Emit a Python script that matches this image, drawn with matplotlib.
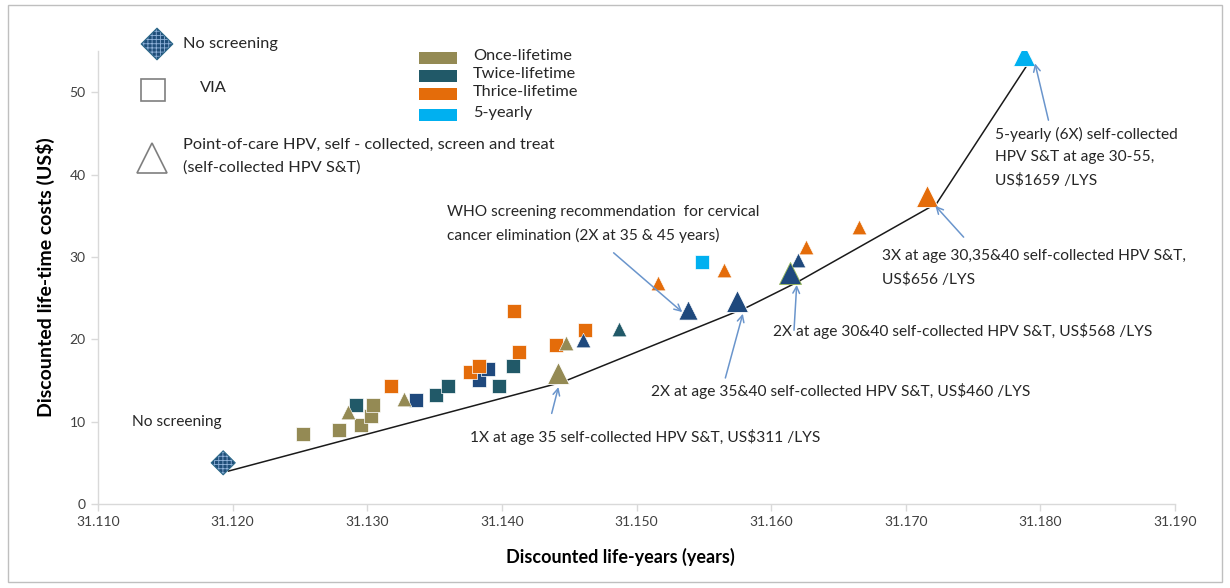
import numpy as np
import matplotlib.pyplot as plt
from matplotlib.patches import Rectangle

plt.rcParams['font.family'] = ['Lato', 'DejaVu Sans']
plt.rcParams['hatch.linewidth'] = 0.6

# ---- data ----
# no screening
none_x = [31.1193]
none_y = [5.0]

# VIA (squares)
via_once_x = [31.1252, 31.1279, 31.1295, 31.1303, 31.1304]
via_once_y = [8.5, 9.0, 9.6, 10.7, 12.0]
via_twice_x = [31.1292, 31.1351, 31.1360, 31.1398, 31.1408]
via_twice_y = [12.0, 13.2, 14.3, 14.3, 16.7]
via_twice_b_x = [31.1336, 31.1383, 31.1390]
via_twice_b_y = [12.6, 15.0, 16.4]
via_thrice_x = [31.1318, 31.1376, 31.1383, 31.1409, 31.1413, 31.1440, 31.1462]
via_thrice_y = [14.3, 16.0, 16.7, 23.4, 18.4, 19.3, 21.1]
via_5y_x = [31.1549]
via_5y_y = [29.4]

# self-collected HPV S&T (triangles)
hpv_once_x = [31.1286, 31.1327, 31.1448]
hpv_once_y = [11.2, 12.7, 19.5]
hpv_twice_x = [31.1487]
hpv_twice_y = [21.2]
hpv_twice_b_x = [31.1460, 31.1620]
hpv_twice_b_y = [19.9, 29.6]
hpv_thrice_x = [31.1516, 31.1565, 31.1626, 31.1665]
hpv_thrice_y = [26.8, 28.4, 31.2, 33.6]

# efficient frontier strategies (big triangles)
front_once_x, front_once_y = [31.1442], [15.9]
front_who_x, front_who_y = [31.1538], [23.5]
front_twice_x = [31.1575, 31.1614]
front_twice_y = [24.6, 28.0]
front_thrice_x, front_thrice_y = [31.1716], [37.4]
front_5y_x, front_5y_y = [31.1788], [54.5]

# frontier line
line_x = [31.1197, 31.1445, 31.1581, 31.1619, 31.1723, 31.1793]
line_y = [4.0, 14.8, 23.8, 26.9, 36.5, 54.0]

x_ticks = [31.110, 31.120, 31.130, 31.140, 31.150, 31.160, 31.170, 31.180, 31.190]
y_ticks = [0, 10, 20, 30, 40, 50]

ONCE = '#948A54'
TWICE = '#215968'
NAVY = '#1F497D'
THRICE = '#E46C0A'
FIVE = '#00B0F0'
ARROW = '#6A95CC'
TXT = '#262626'

W, H = 1230, 588


def fx(px):
    return px / W


def fy(py):
    return 1 - py / H


fig = plt.figure(figsize=(12.3, 5.88), dpi=100)
ax = fig.add_axes([fx(98), 84 / H, 1077 / W, 453 / H])

# frontier line
ax.plot(line_x, line_y, color='#1a1a1a', lw=1.1, zorder=2)


def dotted_diamond(axis, x, y, s, transform=None):
    kw = {} if transform is None else dict(transform=transform, clip_on=False)
    axis.scatter(x, y, marker='D', s=s, facecolor='#1F4E79', edgecolor='none', zorder=3, **kw)
    axis.scatter(x, y, marker='D', s=s, facecolor='none', edgecolor='#8FB2D9', hatch='++++', lw=0, zorder=4, **kw)
    axis.scatter(x, y, marker='D', s=s, facecolor='none', edgecolor='#2E6A8A', lw=0.8, zorder=5, **kw)


dotted_diamond(ax, none_x, none_y, 150)

sq = dict(marker='s', s=95, edgecolor='white', linewidths=0.5, zorder=3)
ax.scatter(via_once_x, via_once_y, color=ONCE, **sq)
ax.scatter(via_twice_x, via_twice_y, color=TWICE, **sq)
ax.scatter(via_twice_b_x, via_twice_b_y, color=NAVY, **sq)
ax.scatter(via_thrice_x, via_thrice_y, color=THRICE, **sq)
ax.scatter(via_5y_x, via_5y_y, color=FIVE, **sq)

tri = dict(marker='^', s=110, edgecolor='white', linewidths=0.4, zorder=3)
ax.scatter(hpv_once_x, hpv_once_y, color=ONCE, **tri)
ax.scatter(hpv_twice_x, hpv_twice_y, color=TWICE, **tri)
ax.scatter(hpv_twice_b_x, hpv_twice_b_y, color=NAVY, **tri)
ax.scatter(hpv_thrice_x, hpv_thrice_y, color=THRICE, **tri)

big = dict(marker='^', s=250, linewidths=0.6, zorder=3)
ax.scatter(front_once_x, front_once_y, color=ONCE, edgecolor='white', **big)
ax.scatter(front_who_x, front_who_y, marker='^', s=190, color=NAVY, edgecolor='white', linewidths=0.5, zorder=3)
ax.scatter(front_twice_x[:1], front_twice_y[:1], color=NAVY, edgecolor='white', **big)
ax.scatter(front_twice_x[1:], front_twice_y[1:], color=NAVY, edgecolor='#9BBB59', **big)
ax.scatter(front_thrice_x, front_thrice_y, color=THRICE, edgecolor='white', **big)
ax.scatter(front_5y_x, front_5y_y, color=FIVE, edgecolor='white', **big)

# axes styling
ax.set_xlim(31.110, 31.190)
ax.set_ylim(0, 55)
ax.set_xticks(x_ticks)
ax.set_xticklabels([f'{v:.3f}' for v in x_ticks])
ax.set_yticks(y_ticks)
for s in ['top', 'right']:
    ax.spines[s].set_visible(False)
for s in ['left', 'bottom']:
    ax.spines[s].set_color('#D9D9D9')
    ax.spines[s].set_linewidth(1.0)
ax.tick_params(axis='both', color='#D9D9D9', length=5, width=1.0, labelcolor='#404040', labelsize=10, pad=4)
ax.set_xlabel('Discounted life-years (years)', fontsize=13, fontweight='bold', color='black', labelpad=14)
ax.xaxis.label.set_x((620 - 98) / 1077)
ax.set_ylabel('Discounted life-time costs (US$)', fontsize=14, fontweight='bold', color='black', labelpad=10)

# arrows
arrows = [
    ((31.1483, 30.5), (31.1534, 23.3)),
    ((31.1437, 11.0), (31.1442, 14.2)),
    ((31.1566, 15.3), (31.1579, 23.1)),
    ((31.1617, 21.1), (31.1619, 26.6)),
    ((31.1743, 32.4), (31.1722, 36.2)),
    ((31.1806, 46.6), (31.1796, 53.5)),
]
for tail, head in arrows:
    ax.annotate('', xy=head, xytext=tail,
                arrowprops=dict(arrowstyle='->', color=ARROW, lw=1.1, shrinkA=0, shrinkB=0,
                                mutation_scale=12))

# annotation texts
notes = [
    (447, 212, 'WHO screening recommendation  for cervical'),
    (447, 235, 'cancer elimination (2X at 35 & 45 years)'),
    (470, 437, '1X at age 35 self-collected HPV S&T, US$311 /LYS'),
    (651, 391, '2X at age 35&40 self-collected HPV S&T, US$460 /LYS'),
    (773, 331, '2X at age 30&40 self-collected HPV S&T, US$568 /LYS'),
    (882, 256, '3X at age 30,35&40 self-collected HPV S&T,'),
    (882, 279, 'US$656 /LYS'),
    (995, 134, '5-yearly (6X) self-collected'),
    (995, 157, 'HPV S&T at age 30-55,'),
    (995, 180, 'US$1659 /LYS'),
    (132, 422, 'No screening'),
]
for px, py, t in notes:
    fig.text(fx(px), fy(py), t, fontsize=11.2, color=TXT, ha='left', va='center')

# shape legend
dotted_diamond(ax, [fx(157)], [fy(44)], 260, transform=fig.transFigure)
fig.text(fx(183), fy(44), 'No screening', fontsize=11.8, color=TXT, va='center')
fig.patches.append(Rectangle((fx(141), fy(101)), 24 / W, 22 / H, facecolor='white', edgecolor='#7F7F7F',
                             lw=1.2, transform=fig.transFigure))
fig.text(fx(200), fy(88), 'VIA', fontsize=11.8, color=TXT, va='center')
fig.lines.append(plt.Line2D([fx(152)], [fy(158)], marker='^', markersize=22, color='white',
                            markeredgecolor='#7F7F7F', markeredgewidth=1.2, transform=fig.transFigure))
fig.text(fx(183), fy(145), 'Point-of-care HPV, self - collected, screen and treat', fontsize=11.8, color=TXT,
         va='center')
fig.text(fx(183), fy(168), '(self-collected HPV S&T)', fontsize=11.8, color=TXT, va='center')

# colour legend
legend_items = [('Once-lifetime', ONCE, 58), ('Twice-lifetime', TWICE, 76),
                ('Thrice-lifetime', THRICE, 94), ('5-yearly', FIVE, 115)]
for label, col, py in legend_items:
    fig.patches.append(Rectangle((fx(419), fy(py + 6)), 38 / W, 12 / H, facecolor=col, edgecolor='none',
                                 transform=fig.transFigure))
    fig.text(fx(473), fy(py - 2), label, fontsize=11.8, color=TXT, va='center')

# outer frame
fig.patches.append(Rectangle((fx(8), fy(582)), 1214 / W, 577 / H, facecolor='none', edgecolor='#BFBFBF',
                             lw=1.0, transform=fig.transFigure))

fig.savefig('out.png', dpi=100)
